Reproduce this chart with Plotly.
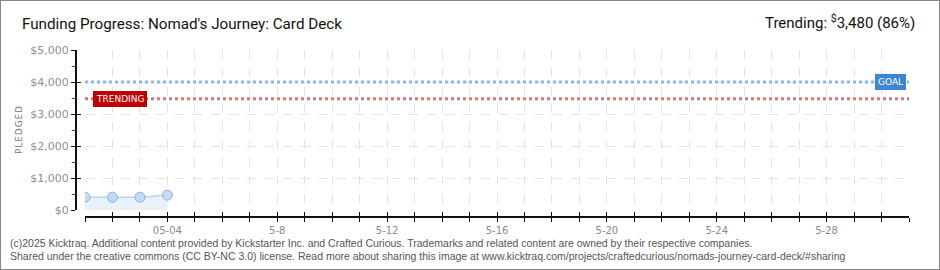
import plotly.graph_objects as go
from datetime import date, timedelta

# ---- data ----
dates = ["2025-05-01", "2025-05-02", "2025-05-03", "2025-05-04"]
pledged = [400, 400, 400, 465]
goal = 4000
trending = 3480
trending_pct = 86
x_start = "2025-05-01"
x_end = "2025-05-31"
y_ticks = [0, 1000, 2000, 3000, 4000, 5000]
y_labels = ["$0", "$1,000", "$2,000", "$3,000", "$4,000", "$5,000"]
y_minor = [500, 1500, 2500, 3500, 4500]
label_days = {"2025-05-04": "05-04", "2025-05-08": "5-8", "2025-05-12": "5-12",
              "2025-05-16": "5-16", "2025-05-20": "5-20", "2025-05-24": "5-24",
              "2025-05-28": "5-28"}
title = "Funding Progress: Nomad's Journey: Card Deck"
footer1 = ("(c)2025 Kicktraq. Additional content provided by Kickstarter Inc. and Crafted Curious. "
           "Trademarks and related content are owned by their respective companies.")
footer2 = ("Shared under the creative commons (CC BY-NC 3.0) license. Read more about sharing this image at "
           "www.kicktraq.com/projects/craftedcurious/nomads-journey-card-deck/#sharing")

# all day ticks
d0 = date.fromisoformat(x_start)
d1 = date.fromisoformat(x_end)
all_days = [(d0 + timedelta(days=i)).isoformat() for i in range((d1 - d0).days + 1)]
all_text = [label_days.get(d, "") for d in all_days]

W, H = 940, 270
px = lambda v: v / W
py = lambda v: (H - v) / H

GRID = "#e3e3e3"
TICKFONT = dict(family="DejaVu Sans", size=10, color="#8a8a8a")

fig = go.Figure()

# goal & trending lines
fig.add_trace(go.Scatter(x=[x_start, x_end], y=[goal, goal], mode="lines",
                         line=dict(color="#8db5e4", width=3, dash="dot"),
                         hoverinfo="skip", showlegend=False))
fig.add_trace(go.Scatter(x=[x_start, x_end], y=[trending, trending], mode="lines",
                         line=dict(color="#d87474", width=3, dash="dot"),
                         hoverinfo="skip", showlegend=False))
# pledged
fig.add_trace(go.Scatter(x=dates, y=pledged, mode="lines+markers",
                         fill="tozeroy", fillcolor="#e9f1fb",
                         line=dict(color="#b9d4f1", width=1.5),
                         marker=dict(size=10, color="#c4dbf5", line=dict(color="#8fb1da", width=1)),
                         showlegend=False))
# dummy trace for overlay axes (inside ticks, making crossing ticks)
fig.add_trace(go.Scatter(x=[x_start], y=[0], xaxis="x2", yaxis="y2", mode="markers",
                         marker=dict(opacity=0), hoverinfo="skip", showlegend=False))

xaxis_common = dict(
    type="date", range=[x_start, x_end],
    domain=[px(85), px(909)],
    anchor="free", position=py(217),
    tickmode="array", tickvals=all_days,
    showline=True, linecolor="#111", linewidth=2,
    ticklen=4, tickwidth=1, tickcolor="#111",
    zeroline=False, automargin=False,
)
yaxis_common = dict(
    range=[0, 5000], domain=[py(210), py(50)],
    anchor="free", position=px(76), automargin=False,
    tickmode="array", tickvals=y_ticks,
    ticklen=4, tickcolor="#111", tickwidth=1,
    showline=True, linecolor="#111", linewidth=2, zeroline=False,
)
fig.update_layout(
    template="none",
    xaxis=dict(**xaxis_common, ticktext=all_text, ticks="outside",
               tickfont=TICKFONT, showgrid=True, gridcolor=GRID, griddash="dash", gridwidth=1),
    xaxis2=dict(**xaxis_common, ticktext=["" for _ in all_days], ticks="inside",
                overlaying="x", showgrid=False, showticklabels=False),
    yaxis=dict(**yaxis_common, ticktext=y_labels, ticks="outside",
               tickfont=dict(family="DejaVu Sans", size=11, color="#8f8f8f"),
               showgrid=True, gridcolor=GRID, griddash="dash", gridwidth=1,
               minor=dict(tickvals=y_minor, ticks="outside",
                          ticklen=3, tickcolor="#e00000", showgrid=False)),
    yaxis2=dict(**yaxis_common, ticktext=["" for _ in y_ticks], ticks="inside",
                overlaying="y", showgrid=False, showticklabels=False),
    width=W, height=H, autosize=False,
    margin=dict(l=0, r=0, t=0, b=0, pad=0),
    paper_bgcolor="white", plot_bgcolor="white",
    showlegend=False,
)

anns = [
    dict(text=title, x=px(20), y=py(24), xanchor="left", yanchor="middle",
         font=dict(family="Roboto", size=15.2, color="#111")),
    dict(text=f"Trending: <sup>$</sup>{trending:,} ({trending_pct}%)", x=px(917), y=py(22),
         xanchor="right", yanchor="middle",
         font=dict(family="Roboto", size=15, color="#111")),
    dict(text="P\u200aL\u200aE\u200aD\u200aG\u200aE\u200aD", x=px(19), y=py(130), textangle=-90,
         xanchor="center", yanchor="middle",
         font=dict(family="DejaVu Sans", size=9, color="#777")),
    dict(text=footer1, x=px(8), y=py(243), xanchor="left", yanchor="middle",
         font=dict(family="Liberation Sans", size=10.5, color="#555")),
    dict(text=footer2, x=px(8), y=py(256), xanchor="left", yanchor="middle",
         font=dict(family="Liberation Sans", size=10.5, color="#555")),
    dict(text="GOAL", x=px(906), y=goal, yref="y", xanchor="right", yanchor="middle",
         bgcolor="#3d86d3", bordercolor="#3d86d3", borderpad=2,
         font=dict(family="DejaVu Sans", size=9, color="white")),
    dict(text="TRENDING", x=px(93), y=trending, yref="y", xanchor="left", yanchor="middle",
         bgcolor="#c00000", bordercolor="#c00000", borderpad=2,
         font=dict(family="DejaVu Sans", size=9, color="white")),
]
for a in anns:
    a.setdefault("xref", "paper")
    a.setdefault("yref", "paper")
    a["showarrow"] = False
fig.update_layout(annotations=anns)

fig.add_shape(type="rect", xref="paper", yref="paper", x0=0, y0=0, x1=1, y1=1,
              line=dict(color="#888", width=2))

fig.write_html("out.html")
